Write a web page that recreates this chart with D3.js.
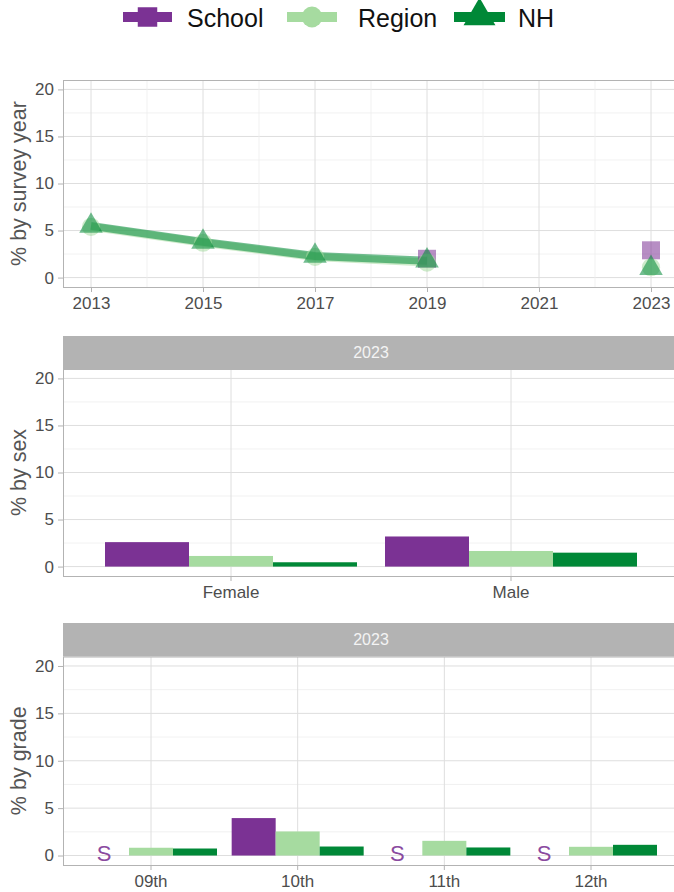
<!DOCTYPE html>
<html><head><meta charset="utf-8">
<script src="https://cdn.jsdelivr.net/npm/d3@7"></script>
<style>
body{margin:0;background:#fff}
svg{display:block}
text{font-family:"Liberation Sans",Arial,sans-serif}
</style>
</head><body>
<svg id="c" width="674" height="892"></svg>
<script>
// ---------------- data ----------------
const groups = ["School", "Region", "NH"];
const colors = ["#7b3294", "#a6dba0", "#008837"];
const years = [2013, 2015, 2017, 2019, 2021, 2023];
const trendSchool = [null, null, null, 2.0, null, 2.9];
const trendRegion = [5.4, 3.7, 2.2, 1.6, null, 1.1];
const trendNH = [5.5, 3.8, 2.3, 1.8, null, 1.0];
const sexCats = ["Female", "Male"];
const sexSchool = [2.6, 3.2];
const sexRegion = [1.13, 1.66];
const sexNH = [0.46, 1.48];
const gradeCats = ["09th", "10th", "11th", "12th"];
const gradeSchool = [null, 3.95, null, null]; // null = suppressed
const gradeRegion = [0.82, 2.54, 1.55, 0.92];
const gradeNH = [0.74, 0.95, 0.85, 1.13];
const yTicks = [0, 5, 10, 15, 20];
const yMinor = [2.5, 7.5, 12.5, 17.5];
const yearTicks = [2013, 2015, 2017, 2019, 2021, 2023];
const yearMinor = [2014, 2016, 2018, 2020, 2022];
const stripLabel = "2023";
const suppressedLabel = "S";
const yTitles = ["% by survey year", "% by sex", "% by grade"];

// ---------------- layout ----------------
const svg = d3.select("#c");
const PX0 = 63, PX1 = 679;
const tickCol = "#4d4d4d", borderCol = "#b3b3b3", gridMaj = "#dedede", gridMin = "#eeeeee";
const color = d3.scaleOrdinal().domain(groups).range(colors);
const shapes = {School: d3.symbolSquare, Region: d3.symbolCircle, NH: d3.symbolTriangle};

function yScaleFor(top, bottom) { return d3.scaleLinear().domain([-1, 21]).range([bottom, top]); }

function drawFrame(top, bottom, y, title) {
  const g = svg.append("g");
  g.selectAll(".ymin").data(yMinor).join("line")
    .attr("x1", PX0).attr("x2", PX1).attr("y1", d => y(d)).attr("y2", d => y(d))
    .attr("stroke", gridMin).attr("stroke-width", 0.8);
  g.selectAll(".ymaj").data(yTicks).join("line")
    .attr("x1", PX0).attr("x2", PX1).attr("y1", d => y(d)).attr("y2", d => y(d))
    .attr("stroke", gridMaj).attr("stroke-width", 1);
  const ax = svg.append("g").attr("transform", `translate(${PX0},0)`)
    .call(d3.axisLeft(y).tickValues(yTicks).tickSize(5).tickPadding(4));
  ax.select(".domain").remove();
  ax.selectAll(".tick line").attr("stroke", borderCol);
  ax.selectAll(".tick text").attr("fill", tickCol).style("font-size", "17px")
    .style("font-family", '"Liberation Sans",Arial,sans-serif');
  svg.append("text")
    .attr("transform", `translate(19,${(top + bottom) / 2}) rotate(-90)`)
    .attr("text-anchor", "middle").attr("dominant-baseline", "central")
    .attr("fill", "#555").style("font-size", "21.5px").text(title);
  return g;
}
function drawBorder(top, bottom) {
  svg.append("rect").attr("x", PX0 + 0.5).attr("y", top + 0.5)
    .attr("width", PX1 - PX0).attr("height", bottom - top)
    .attr("fill", "none").attr("stroke", borderCol).attr("stroke-width", 1);
}
function drawStrip(top, bottom) {
  svg.append("rect").attr("x", PX0).attr("y", top).attr("width", PX1 - PX0).attr("height", bottom - top)
    .attr("fill", "#b3b3b3");
  svg.append("text").attr("x", (PX0 + PX1) / 2).attr("y", (top + bottom) / 2)
    .attr("text-anchor", "middle").attr("dominant-baseline", "central")
    .attr("fill", "#f4f4f4").style("font-size", "16px").text(stripLabel);
}
function styleXAxis(ax) {
  ax.select(".domain").remove();
  ax.selectAll(".tick line").attr("stroke", borderCol);
  ax.selectAll(".tick text").attr("fill", tickCol).style("font-size", "17px")
    .style("font-family", '"Liberation Sans",Arial,sans-serif');
}

// ---------------- legend ----------------
const legendKeys = [
  {g: "School", x0: 123, x1: 172, tx: 187},
  {g: "Region", x0: 287, x1: 337, tx: 358},
  {g: "NH", x0: 454, x1: 505, tx: 518}
];
const LY = 17;
legendKeys.forEach(k => {
  svg.append("line").attr("x1", k.x0).attr("x2", k.x1).attr("y1", LY).attr("y2", LY)
    .attr("stroke", color(k.g)).attr("stroke-width", 10);
  const size = k.g === "School" ? 380 : k.g === "Region" ? 340 : 440;
  svg.append("path").attr("d", d3.symbol().type(shapes[k.g]).size(size)())
    .attr("transform", `translate(${(k.x0 + k.x1) / 2},${k.g === "NH" ? LY - 1 : LY})`)
    .attr("fill", color(k.g));
  svg.append("text").attr("x", k.tx).attr("y", 27).attr("fill", "#111")
    .style("font-size", "25px").text(k.g);
});

// ---------------- panel 1: trend ----------------
{
  const top = 80, bottom = 287;
  const y = yScaleFor(top, bottom);
  const x = d3.scaleLinear().domain([2012.5, 2023.5]).range([PX0, PX1]);
  const g = drawFrame(top, bottom, y, yTitles[0]);
  g.selectAll(".xmin").data(yearMinor).join("line")
    .attr("x1", d => x(d)).attr("x2", d => x(d)).attr("y1", top).attr("y2", bottom)
    .attr("stroke", gridMin).attr("stroke-width", 0.8);
  g.selectAll(".xmaj").data(yearTicks).join("line")
    .attr("x1", d => x(d)).attr("x2", d => x(d)).attr("y1", top).attr("y2", bottom)
    .attr("stroke", gridMaj).attr("stroke-width", 1);
  const ax = svg.append("g").attr("transform", `translate(0,${bottom})`)
    .call(d3.axisBottom(x).tickValues(yearTicks).tickFormat(d3.format("d")).tickSize(5).tickPadding(5));
  styleXAxis(ax);

  const series = [
    {g: "School", v: trendSchool},
    {g: "Region", v: trendRegion},
    {g: "NH", v: trendNH}
  ];
  const line = d3.line().defined(d => d.v != null).x(d => x(d.yr)).y(d => y(d.v));
  series.forEach(s => {
    const pts = years.map((yr, i) => ({yr, v: s.v[i]}));
    svg.append("path").datum(pts).attr("d", line).attr("fill", "none")
      .attr("stroke", color(s.g)).attr("stroke-width", 8).attr("stroke-opacity", 0.55);
  });
  series.forEach(s => {
    const pts = years.map((yr, i) => ({yr, v: s.v[i]})).filter(d => d.v != null);
    const size = s.g === "School" ? 324 : s.g === "Region" ? 260 : 240;
    svg.selectAll(null).data(pts).join("path")
      .attr("d", d3.symbol().type(shapes[s.g]).size(size)())
      .attr("transform", d => `translate(${x(d.yr)},${y(d.v)})`)
      .attr("fill", color(s.g)).attr("fill-opacity", 0.55);
  });
  drawBorder(top, bottom);
}

// ---------------- bar panels ----------------
function barPanel(stripTop, top, bottom, cats, vals, title) {
  drawStrip(stripTop, top);
  const y = yScaleFor(top, bottom);
  const x0 = d3.scaleBand().domain(cats).range([PX0, PX1]).paddingInner(0.1).paddingOuter(0.15);
  const x1 = d3.scaleBand().domain(groups).range([0, x0.bandwidth()]);
  const g = drawFrame(top, bottom, y, title);
  g.selectAll(".xmaj").data(cats).join("line")
    .attr("x1", d => x0(d) + x0.bandwidth() / 2).attr("x2", d => x0(d) + x0.bandwidth() / 2)
    .attr("y1", top).attr("y2", bottom)
    .attr("stroke", gridMaj).attr("stroke-width", 1);
  const ax = svg.append("g").attr("transform", `translate(0,${bottom})`)
    .call(d3.axisBottom(x0).tickSize(5).tickPadding(5));
  styleXAxis(ax);
  const rows = [];
  cats.forEach((c, i) => groups.forEach((gname, j) => rows.push({c, g: gname, v: vals[j][i]})));
  svg.selectAll(null).data(rows.filter(d => d.v != null)).join("rect")
    .attr("x", d => x0(d.c) + x1(d.g)).attr("width", x1.bandwidth())
    .attr("y", d => y(d.v)).attr("height", d => y(0) - y(d.v))
    .attr("fill", d => color(d.g));
  svg.selectAll(null).data(rows.filter(d => d.v == null)).join("text")
    .attr("x", d => x0(d.c) + x1(d.g) + x1.bandwidth() / 2 - 3).attr("y", y(0) - 2)
    .attr("text-anchor", "middle").attr("dominant-baseline", "central")
    .attr("fill", "#8a4a9f").style("font-size", "22px").text(suppressedLabel);
  drawBorder(top, bottom);
}
barPanel(336, 369, 576, sexCats, [sexSchool, sexRegion, sexNH], yTitles[1]);
barPanel(623, 656.5, 865, gradeCats, [gradeSchool, gradeRegion, gradeNH], yTitles[2]);
</script>
</body></html>
